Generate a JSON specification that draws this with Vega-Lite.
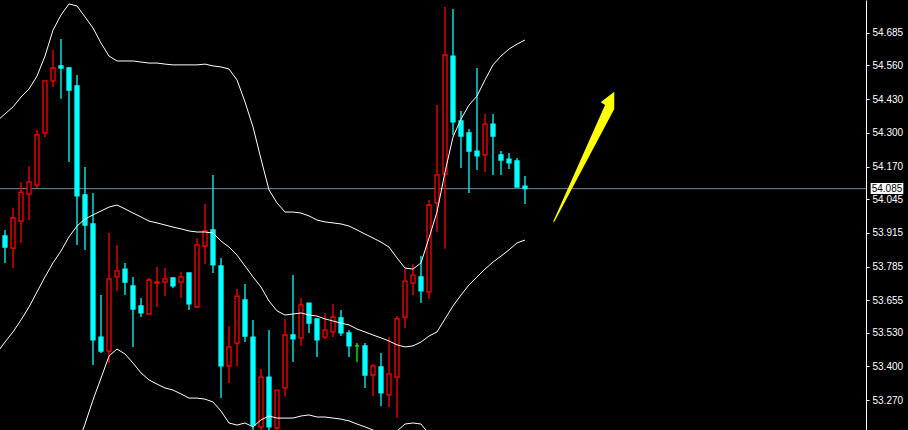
{
  "$schema": "https://vega.github.io/schema/vega-lite/v6.json",
  "width": 866,
  "height": 430,
  "autosize": {"type": "none"},
  "padding": {"left": 0, "top": 0, "right": 42, "bottom": 0},
  "background": "#000000",
  "config": {
    "view": {"stroke": null},
    "axisY": {
      "title": null,
      "grid": false,
      "domainColor": "#ffffff",
      "domainWidth": 1,
      "tickColor": "#ffffff",
      "tickSize": 3,
      "tickWidth": 1,
      "labelColor": "#ffffff",
      "labelFont": "Liberation Sans",
      "labelFontSize": 10,
      "labelPadding": 3,
      "labelOverlap": false,
      "labelFlush": false,
      "labelBound": false
    }
  },
  "datasets": {
    "candles": [
      {"i":0,"o":53.903,"h":53.926,"l":53.799,"c":53.860,"d":"down"},
      {"i":1,"o":53.856,"h":54.011,"l":53.779,"c":53.972,"d":"up"},
      {"i":2,"o":53.960,"h":54.111,"l":53.876,"c":54.072,"d":"up"},
      {"i":3,"o":54.064,"h":54.172,"l":53.964,"c":54.111,"d":"up"},
      {"i":4,"o":54.099,"h":54.311,"l":54.088,"c":54.292,"d":"up"},
      {"i":5,"o":54.300,"h":54.500,"l":54.284,"c":54.500,"d":"up"},
      {"i":6,"o":54.500,"h":54.619,"l":54.477,"c":54.550,"d":"up"},
      {"i":7,"o":54.558,"h":54.662,"l":54.431,"c":54.550,"d":"down"},
      {"i":8,"o":54.550,"h":54.554,"l":54.188,"c":54.465,"d":"down"},
      {"i":9,"o":54.481,"h":54.523,"l":53.868,"c":54.057,"d":"down"},
      {"i":10,"o":54.061,"h":54.168,"l":53.849,"c":53.945,"d":"down"},
      {"i":11,"o":53.949,"h":54.068,"l":53.405,"c":53.502,"d":"down"},
      {"i":12,"o":53.513,"h":53.675,"l":53.452,"c":53.459,"d":"down"},
      {"i":13,"o":53.459,"h":53.914,"l":53.413,"c":53.737,"d":"up"},
      {"i":14,"o":53.745,"h":53.868,"l":53.691,"c":53.768,"d":"up"},
      {"i":15,"o":53.775,"h":53.799,"l":53.675,"c":53.725,"d":"down"},
      {"i":16,"o":53.710,"h":53.745,"l":53.475,"c":53.621,"d":"down"},
      {"i":17,"o":53.633,"h":53.664,"l":53.590,"c":53.606,"d":"down"},
      {"i":18,"o":53.602,"h":53.741,"l":53.602,"c":53.733,"d":"up"},
      {"i":19,"o":53.721,"h":53.783,"l":53.629,"c":53.725,"d":"up"},
      {"i":20,"o":53.725,"h":53.779,"l":53.671,"c":53.737,"d":"up"},
      {"i":21,"o":53.741,"h":53.745,"l":53.702,"c":53.710,"d":"down"},
      {"i":22,"o":53.725,"h":53.764,"l":53.664,"c":53.745,"d":"up"},
      {"i":23,"o":53.760,"h":53.760,"l":53.617,"c":53.641,"d":"down"},
      {"i":24,"o":53.629,"h":53.895,"l":53.629,"c":53.868,"d":"up"},
      {"i":25,"o":53.864,"h":54.026,"l":53.795,"c":53.922,"d":"up"},
      {"i":26,"o":53.926,"h":54.138,"l":53.760,"c":53.791,"d":"down"},
      {"i":27,"o":53.787,"h":53.818,"l":53.278,"c":53.402,"d":"down"},
      {"i":28,"o":53.402,"h":53.556,"l":53.336,"c":53.475,"d":"up"},
      {"i":29,"o":53.490,"h":53.698,"l":53.402,"c":53.671,"d":"up"},
      {"i":30,"o":53.656,"h":53.718,"l":53.494,"c":53.517,"d":"down"},
      {"i":31,"o":53.513,"h":53.579,"l":53.147,"c":53.174,"d":"down"},
      {"i":32,"o":53.167,"h":53.390,"l":53.140,"c":53.359,"d":"up"},
      {"i":33,"o":53.359,"h":53.540,"l":53.140,"c":53.167,"d":"down"},
      {"i":34,"o":53.163,"h":53.309,"l":53.140,"c":53.309,"d":"up"},
      {"i":35,"o":53.317,"h":53.583,"l":53.286,"c":53.521,"d":"up"},
      {"i":36,"o":53.521,"h":53.752,"l":53.417,"c":53.506,"d":"down"},
      {"i":37,"o":53.510,"h":53.664,"l":53.479,"c":53.637,"d":"up"},
      {"i":38,"o":53.644,"h":53.644,"l":53.529,"c":53.567,"d":"down"},
      {"i":39,"o":53.583,"h":53.587,"l":53.436,"c":53.502,"d":"down"},
      {"i":40,"o":53.513,"h":53.606,"l":53.506,"c":53.540,"d":"up"},
      {"i":41,"o":53.533,"h":53.641,"l":53.513,"c":53.590,"d":"up"},
      {"i":42,"o":53.587,"h":53.617,"l":53.517,"c":53.529,"d":"down"},
      {"i":43,"o":53.529,"h":53.540,"l":53.436,"c":53.479,"d":"down"},
      {"i":44,"o":53.479,"h":53.490,"l":53.417,"c":53.479,"d":"flat"},
      {"i":45,"o":53.479,"h":53.490,"l":53.317,"c":53.367,"d":"down"},
      {"i":46,"o":53.367,"h":53.409,"l":53.286,"c":53.402,"d":"up"},
      {"i":47,"o":53.398,"h":53.452,"l":53.247,"c":53.298,"d":"down"},
      {"i":48,"o":53.290,"h":53.513,"l":53.244,"c":53.371,"d":"up"},
      {"i":49,"o":53.359,"h":53.594,"l":53.201,"c":53.583,"d":"up"},
      {"i":50,"o":53.590,"h":53.775,"l":53.548,"c":53.729,"d":"up"},
      {"i":51,"o":53.721,"h":53.795,"l":53.675,"c":53.752,"d":"up"},
      {"i":52,"o":53.745,"h":53.826,"l":53.644,"c":53.691,"d":"down"},
      {"i":53,"o":53.687,"h":54.041,"l":53.660,"c":54.022,"d":"up"},
      {"i":54,"o":54.030,"h":54.407,"l":53.918,"c":54.138,"d":"up"},
      {"i":55,"o":54.141,"h":54.785,"l":53.853,"c":54.600,"d":"up"},
      {"i":56,"o":54.596,"h":54.777,"l":54.292,"c":54.342,"d":"down"},
      {"i":57,"o":54.346,"h":54.384,"l":54.165,"c":54.288,"d":"down"},
      {"i":58,"o":54.300,"h":54.315,"l":54.068,"c":54.230,"d":"down"},
      {"i":59,"o":54.230,"h":54.550,"l":54.157,"c":54.211,"d":"down"},
      {"i":60,"o":54.215,"h":54.373,"l":54.149,"c":54.334,"d":"up"},
      {"i":61,"o":54.334,"h":54.373,"l":54.138,"c":54.288,"d":"down"},
      {"i":62,"o":54.215,"h":54.230,"l":54.138,"c":54.195,"d":"down"},
      {"i":63,"o":54.199,"h":54.222,"l":54.161,"c":54.184,"d":"down"},
      {"i":64,"o":54.192,"h":54.203,"l":54.091,"c":54.091,"d":"down"},
      {"i":65,"o":54.095,"h":54.134,"l":54.026,"c":54.085,"d":"down"}
    ],
    "bands": [
      {"i":-1,"u":54.346,"m":53.452,"lo":52.558},
      {"i":0,"u":54.373,"m":53.494,"lo":52.615},
      {"i":1,"u":54.400,"m":53.533,"lo":52.666},
      {"i":2,"u":54.438,"m":53.579,"lo":52.719},
      {"i":3,"u":54.469,"m":53.629,"lo":52.789},
      {"i":4,"u":54.519,"m":53.687,"lo":52.854},
      {"i":5,"u":54.596,"m":53.745,"lo":52.893},
      {"i":6,"u":54.696,"m":53.799,"lo":52.901},
      {"i":7,"u":54.754,"m":53.845,"lo":52.935},
      {"i":8,"u":54.797,"m":53.899,"lo":53.001},
      {"i":9,"u":54.789,"m":53.941,"lo":53.093},
      {"i":10,"u":54.747,"m":53.968,"lo":53.178},
      {"i":11,"u":54.704,"m":53.984,"lo":53.271},
      {"i":12,"u":54.646,"m":53.999,"lo":53.355},
      {"i":13,"u":54.596,"m":54.014,"lo":53.440},
      {"i":14,"u":54.577,"m":54.022,"lo":53.467},
      {"i":15,"u":54.577,"m":54.007,"lo":53.448},
      {"i":16,"u":54.577,"m":53.991,"lo":53.413},
      {"i":17,"u":54.573,"m":53.976,"lo":53.375},
      {"i":18,"u":54.569,"m":53.960,"lo":53.348},
      {"i":19,"u":54.569,"m":53.953,"lo":53.332},
      {"i":20,"u":54.565,"m":53.945,"lo":53.317},
      {"i":21,"u":54.562,"m":53.937,"lo":53.309},
      {"i":22,"u":54.562,"m":53.930,"lo":53.294},
      {"i":23,"u":54.562,"m":53.922,"lo":53.278},
      {"i":24,"u":54.562,"m":53.918,"lo":53.278},
      {"i":25,"u":54.565,"m":53.918,"lo":53.274},
      {"i":26,"u":54.558,"m":53.914,"lo":53.263},
      {"i":27,"u":54.554,"m":53.883,"lo":53.228},
      {"i":28,"u":54.546,"m":53.860,"lo":53.182},
      {"i":29,"u":54.504,"m":53.829,"lo":53.174},
      {"i":30,"u":54.419,"m":53.787,"lo":53.182},
      {"i":31,"u":54.323,"m":53.745,"lo":53.167},
      {"i":32,"u":54.199,"m":53.706,"lo":53.194},
      {"i":33,"u":54.080,"m":53.652,"lo":53.209},
      {"i":34,"u":54.030,"m":53.614,"lo":53.201},
      {"i":35,"u":53.995,"m":53.598,"lo":53.201},
      {"i":36,"u":53.995,"m":53.602,"lo":53.201},
      {"i":37,"u":53.991,"m":53.606,"lo":53.209},
      {"i":38,"u":53.980,"m":53.598,"lo":53.213},
      {"i":39,"u":53.964,"m":53.594,"lo":53.205},
      {"i":40,"u":53.957,"m":53.583,"lo":53.205},
      {"i":41,"u":53.953,"m":53.575,"lo":53.201},
      {"i":42,"u":53.949,"m":53.567,"lo":53.197},
      {"i":43,"u":53.941,"m":53.560,"lo":53.190},
      {"i":44,"u":53.926,"m":53.544,"lo":53.178},
      {"i":45,"u":53.910,"m":53.533,"lo":53.167},
      {"i":46,"u":53.895,"m":53.521,"lo":53.155},
      {"i":47,"u":53.879,"m":53.510,"lo":53.139},
      {"i":48,"u":53.860,"m":53.498,"lo":53.136},
      {"i":49,"u":53.818,"m":53.483,"lo":53.151},
      {"i":50,"u":53.779,"m":53.475,"lo":53.178},
      {"i":51,"u":53.775,"m":53.479,"lo":53.182},
      {"i":52,"u":53.799,"m":53.494,"lo":53.178},
      {"i":53,"u":53.895,"m":53.517,"lo":53.139},
      {"i":54,"u":53.995,"m":53.533,"lo":53.070},
      {"i":55,"u":54.149,"m":53.583,"lo":53.016},
      {"i":56,"u":54.284,"m":53.633,"lo":52.981},
      {"i":57,"u":54.353,"m":53.675,"lo":52.997},
      {"i":58,"u":54.407,"m":53.714,"lo":53.020},
      {"i":59,"u":54.442,"m":53.745,"lo":53.047},
      {"i":60,"u":54.504,"m":53.775,"lo":53.047},
      {"i":61,"u":54.562,"m":53.802,"lo":53.043},
      {"i":62,"u":54.596,"m":53.825,"lo":53.055},
      {"i":63,"u":54.623,"m":53.849,"lo":53.074},
      {"i":64,"u":54.642,"m":53.876,"lo":53.109},
      {"i":65,"u":54.658,"m":53.887,"lo":53.116}
    ],
    "price": [{"p": 54.085, "t": "54.085"}],
    "arrow": [{"name": "arrow"}]
  },
  "resolve": {"axis": {"y": "shared"}},
  "encoding": {
    "y": {
      "type": "quantitative",
      "scale": {"domain": [53.155, 54.812], "nice": false, "zero": false, "padding": 0},
      "axis": {
        "orient": "right",
        "values": [54.815, 54.685, 54.56, 54.43, 54.3, 54.17, 54.045, 53.915, 53.785, 53.655, 53.53, 53.4, 53.27],
        "format": ".3f",
        "title": null
      }
    },
    "x": {
      "type": "quantitative",
      "scale": {"domain": [-0.625, 107.625], "nice": false, "zero": false, "padding": 0},
      "axis": null
    }
  },
  "layer": [
    {
      "data": {"name": "price"},
      "mark": {"type": "rule", "color": "#778899", "strokeWidth": 1},
      "encoding": {
        "y": {"field": "p", "type": "quantitative"},
        "x": null
      }
    },
    {
      "data": {"name": "candles"},
      "mark": {"type": "rule", "strokeWidth": 1.3, "clip": true},
      "encoding": {
        "x": {"field": "i", "type": "quantitative"},
        "y": {"field": "l", "type": "quantitative"},
        "y2": {"field": "h"},
        "stroke": {"field": "d", "type": "nominal", "scale": {"domain": ["up", "down", "flat"], "range": ["#ff0000", "#00ffff", "#00ff00"]}, "legend": null}
      }
    },
    {
      "data": {"name": "candles"},
      "mark": {"type": "bar", "width": 4, "strokeWidth": 1.3, "clip": true},
      "encoding": {
        "x": {"field": "i", "type": "quantitative"},
        "y": {"field": "o", "type": "quantitative"},
        "y2": {"field": "c"},
        "stroke": {"field": "d", "type": "nominal", "scale": {"domain": ["up", "down", "flat"], "range": ["#ff0000", "#00ffff", "#00ff00"]}, "legend": null},
        "fill": {"field": "d", "type": "nominal", "scale": {"domain": ["up", "down", "flat"], "range": ["#000000", "#00ffff", "#00ff00"]}, "legend": null}
      }
    },
    {
      "data": {"name": "bands"},
      "mark": {"type": "line", "color": "#ffffff", "strokeWidth": 1, "clip": true},
      "encoding": {
        "x": {"field": "i", "type": "quantitative"},
        "y": {"field": "u", "type": "quantitative"}
      }
    },
    {
      "data": {"name": "bands"},
      "mark": {"type": "line", "color": "#ffffff", "strokeWidth": 1, "clip": true},
      "encoding": {
        "x": {"field": "i", "type": "quantitative"},
        "y": {"field": "m", "type": "quantitative"}
      }
    },
    {
      "data": {"name": "bands"},
      "mark": {"type": "line", "color": "#ffffff", "strokeWidth": 1, "clip": true},
      "encoding": {
        "x": {"field": "i", "type": "quantitative"},
        "y": {"field": "lo", "type": "quantitative"}
      }
    },
    {
      "data": {"name": "arrow"},
      "mark": {
        "type": "point",
        "filled": true,
        "color": "#ffff00",
        "opacity": 1,
        "strokeWidth": 0,
        "size": 16978,
        "shape": "M-0.47,1L0.329,-0.796L0.262,-0.837L0.47,-1L0.47,-0.734L-0.447,0.992Z"
      },
      "encoding": {
        "x": {"datum": 72.33, "type": "quantitative"},
        "y": {"datum": 54.2076, "type": "quantitative"}
      }
    },
    {
      "data": {"name": "price"},
      "mark": {"type": "rect", "color": "#ffffff"},
      "encoding": {
        "x": {"datum": 108.21, "type": "quantitative"},
        "x2": {"datum": 112.29},
        "y": {"datum": 54.1068, "type": "quantitative"},
        "y2": {"datum": 54.0644}
      }
    },
    {
      "data": {"name": "price"},
      "mark": {"type": "text", "color": "#000000", "font": "Liberation Sans", "fontSize": 10, "align": "center", "baseline": "middle"},
      "encoding": {
        "x": {"datum": 110.25, "type": "quantitative"},
        "y": {"field": "p", "type": "quantitative"},
        "text": {"field": "t"}
      }
    }
  ]
}
